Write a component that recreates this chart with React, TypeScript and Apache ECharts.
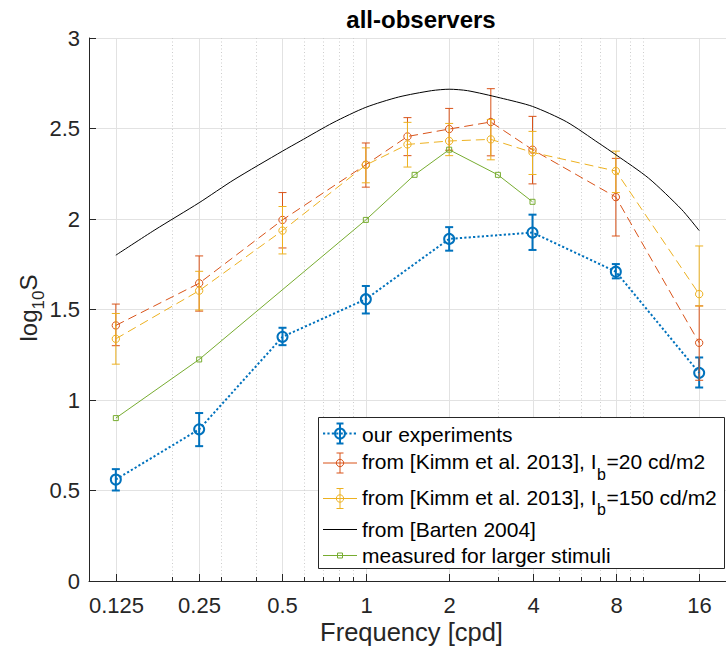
import React, { useEffect, useRef } from "react";
import * as echarts from "echarts";

const FONT = '"Liberation Sans", Arial, Helvetica, sans-serif';
const AXIS_COLOR = "#262626";
const GRID_COLOR = "#e2e2e2";
const MINOR_COLOR = "#cdcdcd";
const BLUE = "#0072BD";
const RED = "#D95319";
const YELLOW = "#EDB120";
const GREEN = "#77AC30";
const BLACK = "#000000";

// axis ticks
const majorTicks = [0.125, 0.25, 0.5, 1, 2, 4, 8, 16];
const majorTickLabels = ["0.125", "0.25", "0.5", "1", "2", "4", "8", "16"];
const minorTicks = [0.2, 0.3, 0.4, 0.6, 0.7, 0.8, 0.9, 3, 5, 6, 7, 9, 10];
const xMin = 0.1;
const xMax = 20;

// our experiments
const oursFreq = [0.125, 0.25, 0.5, 1, 2, 4, 8, 16];
const oursVal = [0.561, 0.838, 1.349, 1.557, 1.89, 1.925, 1.709, 1.15];
const oursLo = [0.5, 0.745, 1.303, 1.478, 1.825, 1.829, 1.672, 1.069];
const oursHi = [0.618, 0.928, 1.399, 1.63, 1.955, 2.024, 1.751, 1.235];

// Kimm et al. 2013, Ib = 20 cd/m2
const kimmFreq = [0.125, 0.25, 0.5, 1, 1.414, 2, 2.828, 4, 8, 16];
const kimm20Val = [1.412, 1.645, 1.995, 2.3, 2.456, 2.497, 2.536, 2.383, 2.121, 1.316];
const kimm20Lo = [1.3, 1.491, 1.84, 2.176, 2.35, 2.38, 2.349, 2.194, 1.906, 1.109];
const kimm20Hi = [1.53, 1.796, 2.146, 2.42, 2.56, 2.611, 2.72, 2.567, 2.335, 1.52];

// Kimm et al. 2013, Ib = 150 cd/m2
const kimm150Val = [1.338, 1.604, 1.936, 2.298, 2.412, 2.431, 2.44, 2.368, 2.265, 1.585];
const kimm150Lo = [1.198, 1.497, 1.807, 2.2, 2.287, 2.35, 2.327, 2.246, 2.146, 1.519];
const kimm150Hi = [1.478, 1.711, 2.069, 2.393, 2.534, 2.528, 2.55, 2.484, 2.375, 1.851];

// Barten 2004
const bartenFreq = [0.125, 0.173, 0.25, 0.334, 0.5, 0.579, 0.761, 1, 1.314, 1.727, 2, 2.33, 3.06, 4, 5.31, 6.96, 8, 10.5, 13.8, 16];
const bartenVal = [1.8, 1.94, 2.09, 2.217, 2.375, 2.43, 2.532, 2.617, 2.674, 2.709, 2.717, 2.709, 2.669, 2.622, 2.537, 2.418, 2.355, 2.226, 2.054, 1.936];

// measured for larger stimuli
const largerFreq = [0.125, 0.25, 1, 1.5, 2, 3, 4];
const largerVal = [0.9, 1.224, 1.995, 2.244, 2.383, 2.244, 2.095];

const lg = (f: number) => Math.log10(f);

function errorSeries(freq: number[], val: number[], lo: number[], hi: number[], color: string, lw: number, r: number) {
  return {
    type: "custom",
    silent: true,
    data: freq.map((f, i) => [lg(f), val[i], lo[i], hi[i]]),
    encode: { x: 0, y: 1 },
    renderItem: (params: any, api: any) => {
      const x = api.value(0);
      const p = api.coord([x, api.value(1)]);
      const pl = api.coord([x, api.value(2)]);
      const ph = api.coord([x, api.value(3)]);
      const cap = 4;
      const st = { stroke: color, lineWidth: lw, fill: "none" };
      return {
        type: "group",
        children: [
          { type: "line", shape: { x1: p[0], y1: ph[1], x2: p[0], y2: pl[1] }, style: st },
          { type: "line", shape: { x1: p[0] - cap, y1: ph[1], x2: p[0] + cap, y2: ph[1] }, style: st },
          { type: "line", shape: { x1: p[0] - cap, y1: pl[1], x2: p[0] + cap, y2: pl[1] }, style: st },
          { type: "circle", shape: { cx: p[0], cy: p[1], r }, style: st },
        ],
      };
    },
  };
}

export default function App() {
  const ref = useRef<HTMLDivElement>(null);
  useEffect(() => {
    const chart = echarts.init(ref.current!, null, { renderer: "svg" });
    const ctx = document.createElement("canvas").getContext("2d")!;
    const measure = (s: string, size: number, weight = "normal") => {
      ctx.font = `${weight} ${size}px "Liberation Sans"`;
      return ctx.measureText(s).width;
    };

    const gridSeries = {
      type: "custom",
      silent: true,
      z: 1,
      data: majorTicks.map((f) => [lg(f), 0]),
      renderItem: (params: any, api: any) => {
        const x = Math.round(api.coord([api.value(0), 0])[0]) + 0.5;
        const cs = params.coordSys;
        const top = cs.y;
        const bottom = cs.y + cs.height;
        return {
          type: "group",
          children: [
            { type: "line", shape: { x1: x, y1: top, x2: x, y2: bottom }, style: { stroke: GRID_COLOR, lineWidth: 1 } },
            { type: "line", shape: { x1: x, y1: bottom - 7, x2: x, y2: bottom }, style: { stroke: AXIS_COLOR, lineWidth: 1 } },
            {
              type: "text",
              x: x,
              y: bottom + 24,
              style: { text: majorTickLabels[params.dataIndex], fontSize: 22, fontFamily: FONT, fill: AXIS_COLOR, align: "center", verticalAlign: "middle" },
            },
          ],
        };
      },
    };
    const minorSeries = {
      type: "custom",
      silent: true,
      z: 1,
      data: minorTicks.map((f) => [lg(f), 0]),
      renderItem: (params: any, api: any) => {
        const x = Math.round(api.coord([api.value(0), 0])[0]) + 0.5;
        const cs = params.coordSys;
        const top = cs.y;
        const bottom = cs.y + cs.height;
        return {
          type: "group",
          children: [
            { type: "line", shape: { x1: x, y1: top, x2: x, y2: bottom }, style: { stroke: MINOR_COLOR, lineWidth: 1, lineDash: [1, 2.5] } },
            { type: "line", shape: { x1: x, y1: bottom - 4, x2: x, y2: bottom }, style: { stroke: AXIS_COLOR, lineWidth: 1 } },
          ],
        };
      },
    };

    const g: any[] = [];
    g.push({
      type: "text", x: 421, y: 19, z: 100,
      style: { text: "all-observers", fontSize: 24, fontWeight: "bold", fontFamily: FONT, fill: BLACK, align: "center", verticalAlign: "middle" },
    });
    g.push({
      type: "text", x: 411.5, y: 632, z: 100,
      style: { text: "Frequency [cpd]", fontSize: 25.5, fontFamily: FONT, fill: AXIS_COLOR, align: "center", verticalAlign: "middle" },
    });
    // y label log10 S
    const wLog = measure("log", 24);
    const w10 = measure("10", 17);
    const wS = measure("S", 24);
    const tot = wLog + w10 + wS;
    g.push({
      type: "group", x: 28, y: 308, rotation: Math.PI / 2, z: 100,
      children: [
        { type: "text", x: -tot / 2, y: 0, style: { text: "log", fontSize: 24, fontFamily: FONT, fill: AXIS_COLOR, align: "left", verticalAlign: "middle" } },
        { type: "text", x: -tot / 2 + wLog, y: 10, style: { text: "10", fontSize: 17, fontFamily: FONT, fill: AXIS_COLOR, align: "left", verticalAlign: "middle" } },
        { type: "text", x: -tot / 2 + wLog + w10, y: 0, style: { text: "S", fontSize: 24, fontFamily: FONT, fill: AXIS_COLOR, align: "left", verticalAlign: "middle" } },
      ],
    });

    // legend
    const LX0 = 323, LX1 = 357, LMX = 340, TX = 362, LFS = 21;
    g.push({ type: "rect", z: 100, shape: { x: 318.5, y: 417.5, width: 406, height: 151 }, style: { fill: "#fff", stroke: AXIS_COLOR, lineWidth: 1 } });
    const txt = (x: number, y: number, s: string, size = LFS) => ({
      type: "text", x, y, z: 101,
      style: { text: s, fontSize: size, fontFamily: FONT, fill: BLACK, align: "left", verticalAlign: "middle" },
    });
    const legErr = (cy: number, color: string, lw: number, r: number, dash: any) => {
      const st = { stroke: color, lineWidth: lw, fill: "none" };
      return [
        { type: "line", z: 101, shape: { x1: LX0, y1: cy, x2: LX1, y2: cy }, style: { stroke: color, lineWidth: lw, lineDash: dash } },
        { type: "line", z: 101, shape: { x1: LMX, y1: cy - 10, x2: LMX, y2: cy + 10 }, style: st },
        { type: "line", z: 101, shape: { x1: LMX - 3.5, y1: cy - 10, x2: LMX + 3.5, y2: cy - 10 }, style: st },
        { type: "line", z: 101, shape: { x1: LMX - 3.5, y1: cy + 10, x2: LMX + 3.5, y2: cy + 10 }, style: st },
        { type: "circle", z: 101, shape: { cx: LMX, cy, r }, style: st },
      ];
    };
    g.push(...legErr(433.5, BLUE, 2, 5, [2.2, 2.2]));
    g.push(txt(TX, 434, "our experiments"));
    g.push(...legErr(463, RED, 1, 3.7, null));
    g.push(...legErr(498.5, YELLOW, 1, 3.7, null));
    const subRow = (y: number, pre: string, post: string) => {
      const w1 = measure(pre, LFS);
      const wb = measure("b", 16);
      g.push(txt(TX, y, pre));
      g.push(txt(TX + w1 + 0.5, y + 12.5, "b", 16));
      g.push(txt(TX + w1 + 0.5 + wb + 0.5, y, post));
    };
    subRow(461.5, "from [Kimm et al. 2013], I", "=20 cd/m2");
    subRow(497, "from [Kimm et al. 2013], I", "=150 cd/m2");
    g.push({ type: "line", z: 101, shape: { x1: LX0, y1: 529.5, x2: LX1, y2: 529.5 }, style: { stroke: BLACK, lineWidth: 1 } });
    g.push(txt(TX, 529.5, "from [Barten 2004]"));
    g.push({ type: "line", z: 101, shape: { x1: LX0, y1: 555.5, x2: LX1, y2: 555.5 }, style: { stroke: GREEN, lineWidth: 1 } });
    g.push({ type: "rect", z: 101, shape: { x: LMX - 2.5, y: 553, width: 5, height: 5 }, style: { fill: "none", stroke: GREEN, lineWidth: 1 } });
    g.push(txt(TX, 555.5, "measured for larger stimuli"));

    const option: any = {
      animation: false,
      backgroundColor: "#ffffff",
      grid: { left: 89, right: -9.5, top: 38, bottom: 65, containLabel: false },
      xAxis: {
        type: "value",
        min: lg(xMin),
        max: lg(xMax),
        axisLine: { show: true, onZero: false, lineStyle: { color: AXIS_COLOR, width: 1 } },
        axisTick: { show: false },
        axisLabel: { show: false },
        splitLine: { show: false },
      },
      yAxis: {
        type: "value",
        min: 0,
        max: 3,
        interval: 0.5,
        axisLine: { show: true, onZero: false, lineStyle: { color: AXIS_COLOR, width: 1 } },
        axisTick: { show: true, inside: true, length: 7, lineStyle: { color: AXIS_COLOR } },
        axisLabel: { fontSize: 22, fontFamily: FONT, color: AXIS_COLOR, margin: 9 },
        splitLine: { show: true, lineStyle: { color: GRID_COLOR, width: 1 } },
      },
      series: [
        gridSeries,
        minorSeries,
        {
          type: "line", silent: true, symbol: "none",
          data: oursFreq.map((f, i) => [lg(f), oursVal[i]]),
          lineStyle: { color: BLUE, width: 2, type: [2.2, 2.2] },
        },
        errorSeries(oursFreq, oursVal, oursLo, oursHi, BLUE, 2, 5),
        {
          type: "line", silent: true, symbol: "none",
          data: kimmFreq.map((f, i) => [lg(f), kimm20Val[i]]),
          lineStyle: { color: RED, width: 1, type: [9, 5] },
        },
        errorSeries(kimmFreq, kimm20Val, kimm20Lo, kimm20Hi, RED, 1, 3.7),
        {
          type: "line", silent: true, symbol: "none",
          data: kimmFreq.map((f, i) => [lg(f), kimm150Val[i]]),
          lineStyle: { color: YELLOW, width: 1, type: [9, 5] },
        },
        errorSeries(kimmFreq, kimm150Val, kimm150Lo, kimm150Hi, YELLOW, 1, 3.7),
        {
          type: "line", silent: true, symbol: "none", smooth: 0.25,
          data: bartenFreq.map((f, i) => [lg(f), bartenVal[i]]),
          lineStyle: { color: BLACK, width: 1 },
        },
        {
          type: "line", silent: true, symbol: "rect", symbolSize: 5, showAllSymbol: true,
          data: largerFreq.map((f, i) => [lg(f), largerVal[i]]),
          lineStyle: { color: GREEN, width: 1 },
          itemStyle: { color: "rgba(255,255,255,0)", borderColor: GREEN, borderWidth: 1 },
        },
      ],
      graphic: g,
    };
    chart.setOption(option);
    return () => chart.dispose();
  }, []);
  return <div ref={ref} style={{ position: "absolute", left: 0, top: 0, width: 726, height: 646, background: "#fff" }} />;
}
